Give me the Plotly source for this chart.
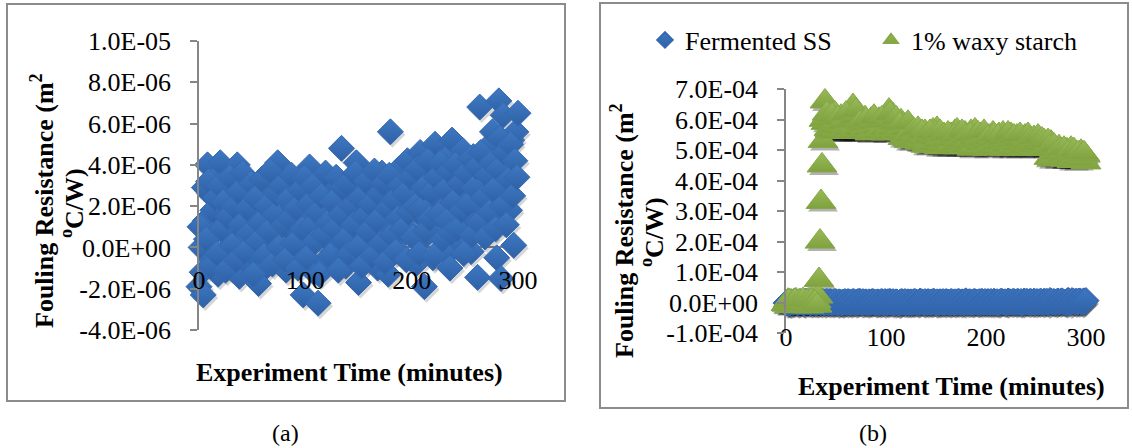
import plotly.graph_objects as go

W, H = 1132, 448

# ---------------- data ----------------
# Fermented SS: readings at even minutes, then readings at odd minutes
time_ss = [0, 2, 4, 6, 8, 10, 12, 14, 16, 18, 20, 22, 24, 26, 28, 30, 32, 34, 36, 38,
           40, 42, 44, 46, 48, 50, 52, 54, 56, 58, 60, 62, 64, 66, 68, 70, 72, 74, 76, 78,
           80, 82, 84, 86, 88, 90, 92, 94, 96, 98, 100, 102, 104, 106, 108, 110, 112, 114, 116, 118,
           120, 122, 124, 126, 128, 130, 132, 134, 136, 138, 140, 142, 144, 146, 148, 150, 152, 154, 156, 158,
           160, 162, 164, 166, 168, 170, 172, 174, 176, 178, 180, 182, 184, 186, 188, 190, 192, 194, 196, 198,
           200, 202, 204, 206, 208, 210, 212, 214, 216, 218, 220, 222, 224, 226, 228, 230, 232, 234, 236, 238,
           240, 242, 244, 246, 248, 250, 252, 254, 256, 258, 260, 262, 264, 266, 268, 270, 272, 274, 276, 278,
           280, 282, 284, 286, 288, 290, 292, 294, 296, 298, 300,
           1, 3, 5, 7, 9, 11, 13, 15, 17, 19, 21, 23, 25, 27, 29, 31, 33, 35, 37, 39,
           41, 43, 45, 47, 49, 51, 53, 55, 57, 59, 61, 63, 65, 67, 69, 71, 73, 75, 77, 79,
           81, 83, 85, 87, 89, 91, 93, 95, 97, 99, 101, 103, 105, 107, 109, 111, 113, 115, 117, 119,
           121, 123, 125, 127, 129, 131, 133, 135, 137, 139, 141, 143, 145, 147, 149, 151, 153, 155, 157, 159,
           161, 163, 165, 167, 169, 171, 173, 175, 177, 179, 181, 183, 185, 187, 189, 191, 193, 195, 197, 199,
           201, 203, 205, 207, 209, 211, 213, 215, 217, 219, 221, 223, 225, 227, 229, 231, 233, 235, 237, 239,
           241, 243, 245, 247, 249, 251, 253, 255, 257, 259, 261, 263, 265, 267, 269, 271, 273, 275, 277, 279,
           281, 283, 285, 287, 289, 291, 293, 295, 297, 299]

fermented_ss = [-1.9e-6, 0.0e-6, -2.3e-6, 1.3e-6, 4.0e-6, 2.6e-6, -0.6e-6, 3.3e-6, 0.8e-6, -1.3e-6,
                4.1e-6, 1.9e-6, -0.2e-6, 2.8e-6, 0.5e-6, -1.0e-6, 3.6e-6, 1.2e-6, 4.0e-6, -1.4e-6,
                2.3e-6, 0.2e-6, 3.1e-6, -0.8e-6, 1.6e-6, 2.9e-6, -0.4e-6, 1.0e-6, -1.75e-6, 2.1e-6,
                0.6e-6, 3.4e-6, -0.9e-6, 1.8e-6, 2.7e-6, 0.3e-6, 3.5e-6, 4.1e-6, -0.5e-6, 1.4e-6,
                2.5e-6, -1.1e-6, 0.9e-6, 3.0e-6, 1.7e-6, -0.3e-6, 2.2e-6, 0.4e-6, 3.2e-6, -2.3e-6,
                1.5e-6, 2.8e-6, 3.9e-6, 0.1e-6, -1.2e-6, 2.4e-6, -2.7e-6, 1.1e-6, 3.3e-6, 0.7e-6,
                -0.7e-6, 2.6e-6, 1.3e-6, -0.2e-6, 3.0e-6, 1.9e-6, 0.5e-6, 4.8e-6, 2.2e-6, -0.9e-6,
                1.4e-6, 3.1e-6, 0.2e-6, 2.0e-6, 4.1e-6, -1.7e-6, 1.2e-6, 2.9e-6, 0.6e-6, -0.6e-6,
                3.4e-6, 1.8e-6, 0.0e-6, 2.5e-6, -1.0e-6, 1.6e-6, 3.6e-6, 0.9e-6, 2.3e-6, -1.3e-6,
                5.6e-6, 1.0e-6, 2.7e-6, 0.3e-6, 3.8e-6, 1.5e-6, -0.4e-6, 2.9e-6, 4.2e-6, 0.8e-6,
                2.1e-6, 3.3e-6, -0.8e-6, 1.7e-6, 4.6e-6, 0.4e-6, -1.9e-6, 2.6e-6, 3.9e-6, 1.2e-6,
                -0.5e-6, 5.0e-6, 2.4e-6, 0.6e-6, 3.6e-6, 1.9e-6, 4.3e-6, -0.3e-6, -1.0e-6, 5.2e-6,
                2.8e-6, 1.1e-6, 3.9e-6, 0.2e-6, 4.7e-6, 2.3e-6, 1.4e-6, 3.4e-6, -0.2e-6, 4.4e-6,
                2.6e-6, -1.45e-6, 6.8e-6, 1.9e-6, 3.8e-6, 0.8e-6, 4.9e-6, 2.9e-6, 5.6e-6, 1.5e-6,
                -0.5e-6, 7.1e-6, -1.5e-6, 6.4e-6, 3.1e-6, 4.5e-6, 1.8e-6, 5.2e-6, 0.1e-6, 5.6e-6,
                6.5e-6,
                1.0e-6, -1.2e-6, 2.9e-6, 0.4e-6, 3.2e-6, -0.9e-6, 1.8e-6, 2.4e-6, -0.3e-6, 3.0e-6,
                0.9e-6, 2.2e-6, -1.1e-6, 1.5e-6, 3.4e-6, 0.1e-6, 2.0e-6, -0.6e-6, 2.7e-6, 1.1e-6,
                3.6e-6, -0.2e-6, 1.9e-6, 0.7e-6, 3.1e-6, -1.3e-6, 2.4e-6, 0.3e-6, 1.2e-6, 3.3e-6,
                -0.4e-6, 2.0e-6, 0.8e-6, 3.7e-6, -0.8e-6, 1.6e-6, 2.6e-6, 0.0e-6, 3.0e-6, 1.1e-6,
                -0.6e-6, 2.3e-6, 1.4e-6, 3.5e-6, 0.2e-6, 1.9e-6, -1.0e-6, 2.8e-6, 0.9e-6, 3.4e-6,
                -0.5e-6, 2.1e-6, 1.0e-6, 3.0e-6, 0.3e-6, 1.7e-6, -1.3e-6, 2.5e-6, 0.6e-6, 3.6e-6,
                1.2e-6, -0.4e-6, 2.2e-6, 0.9e-6, 3.4e-6, -1.1e-6, 1.6e-6, 2.9e-6, 0.4e-6, 3.1e-6,
                -0.3e-6, 2.0e-6, 1.1e-6, 3.6e-6, 0.0e-6, 2.4e-6, -0.9e-6, 1.5e-6, 3.2e-6, 0.8e-6,
                2.1e-6, -0.4e-6, 3.7e-6, 1.3e-6, 2.6e-6, 0.2e-6, 3.1e-6, -0.7e-6, 1.9e-6, 3.5e-6,
                0.6e-6, 2.3e-6, -0.2e-6, 1.4e-6, 3.0e-6, 0.9e-6, 2.6e-6, -0.6e-6, 1.7e-6, 3.4e-6,
                0.5e-6, 2.0e-6, 3.8e-6, -0.3e-6, 1.9e-6, 2.9e-6, 0.8e-6, 4.2e-6, 1.4e-6, 2.7e-6,
                -0.4e-6, 3.4e-6, 1.6e-6, 4.1e-6, 0.4e-6, 2.8e-6, 1.3e-6, 3.7e-6, 0.7e-6, 2.2e-6,
                4.0e-6, 0.9e-6, 3.1e-6, 1.8e-6, -0.3e-6, 3.6e-6, 2.1e-6, 4.3e-6, 0.6e-6, 2.9e-6,
                3.9e-6, 1.2e-6, 4.6e-6, 2.4e-6, 0.5e-6, 3.5e-6, 1.7e-6, 4.1e-6, 2.8e-6, 0.9e-6,
                3.8e-6, 5.3e-6, 2.0e-6, 4.6e-6, 1.1e-6, 3.3e-6, 5.0e-6, 2.5e-6, 4.2e-6, 3.4e-6]

# 1% waxy starch: main readings, then the extra readings in between
time_ws = [0, 2, 4, 6, 8, 10, 12, 14, 16, 18, 20, 22, 24, 26, 28, 30,
           32, 33, 34, 35, 36, 37, 38, 39,
           41, 43, 45, 47, 49, 51, 53, 55, 57, 59, 61, 63, 65, 67, 69, 71, 73, 75, 77, 79,
           81, 83, 85, 87, 89, 91, 93, 95, 97, 99, 101, 103, 105, 107, 109, 111, 113, 115, 117, 119,
           121, 123, 125, 127, 129, 131, 133, 135, 137, 139, 141, 143, 145, 147, 149, 151, 153, 155, 157, 159,
           161, 163, 165, 167, 169, 171, 173, 175, 177, 179, 181, 183, 185, 187, 189, 191, 193, 195, 197, 199,
           201, 203, 205, 207, 209, 211, 213, 215, 217, 219, 221, 223, 225, 227, 229, 231, 233, 235, 237, 239,
           241, 243, 245, 247, 249, 251, 253, 255, 257, 259, 261, 263, 265, 267, 269, 271, 273, 275, 277, 279,
           281, 283, 285, 287, 289, 291, 293, 295, 297, 299, 300,
           1, 3, 5, 7, 9, 11, 13, 15, 17, 19, 21, 23, 25, 27, 29, 31,
           40, 42, 44, 46, 48, 50, 52, 54, 56, 58, 60, 62, 64, 66, 68, 70, 72, 74, 76, 78,
           80, 82, 84, 86, 88, 90, 92, 94, 96, 98, 100, 102, 104, 106, 108, 110, 112, 114, 116, 118,
           120, 122, 124, 126, 128, 130, 132, 134, 136, 138, 140, 142, 144, 146, 148, 150, 152, 154, 156, 158,
           160, 162, 164, 166, 168, 170, 172, 174, 176, 178, 180, 182, 184, 186, 188, 190, 192, 194, 196, 198,
           200, 202, 204, 206, 208, 210, 212, 214, 216, 218, 220, 222, 224, 226, 228, 230, 232, 234, 236, 238,
           240, 242, 244, 246, 248, 250, 252, 254, 256, 258, 260, 262, 264, 266, 268, 270, 272, 274, 276, 278,
           280, 282, 284, 286, 288, 290, 292, 294, 296, 298]

waxy_starch = [-0.05e-4, 0.06e-4, -0.12e-4, 0.02e-4, -0.08e-4, 0.07e-4, -0.10e-4, 0.03e-4,
               -0.06e-4, 0.05e-4, -0.11e-4, 0.04e-4, -0.03e-4, 0.07e-4, -0.09e-4, 0.05e-4,
               0.2e-4, 0.74e-4, 2.0e-4, 3.3e-4, 4.5e-4, 5.3e-4, 6.0e-4, 6.6e-4,
               6.2e-4, 5.7e-4, 6.0e-4, 5.6e-4, 6.2e-4, 5.8e-4, 5.6e-4, 6.1e-4, 5.7e-4, 6.0e-4,
               5.6e-4, 5.9e-4, 6.2e-4, 6.45e-4, 5.8e-4, 5.6e-4, 6.1e-4, 5.7e-4, 5.9e-4, 6.05e-4,
               5.6e-4, 5.8e-4, 6.0e-4, 5.65e-4, 5.9e-4, 5.6e-4, 6.0e-4, 5.75e-4, 5.6e-4, 6.1e-4,
               5.7e-4, 6.3e-4, 5.9e-4, 6.15e-4, 5.6e-4, 6.0e-4, 5.7e-4, 5.95e-4, 5.4e-4, 5.8e-4,
               5.6e-4, 5.3e-4, 5.75e-4, 5.6e-4, 5.35e-4, 5.55e-4, 5.3e-4, 5.5e-4, 5.25e-4, 5.6e-4,
               5.3e-4, 5.15e-4, 5.5e-4, 5.65e-4, 5.2e-4, 5.7e-4, 5.1e-4, 5.45e-4, 5.25e-4, 5.1e-4,
               5.4e-4, 5.15e-4, 5.5e-4, 5.2e-4, 5.6e-4, 5.65e-4, 5.1e-4, 5.4e-4, 5.25e-4, 5.55e-4,
               5.1e-4, 5.35e-4, 5.6e-4, 5.2e-4, 5.65e-4, 5.1e-4, 5.4e-4, 5.5e-4, 5.15e-4, 5.35e-4,
               5.05e-4, 5.45e-4, 5.2e-4, 5.55e-4, 5.1e-4, 5.3e-4, 5.5e-4, 5.15e-4, 5.55e-4, 5.05e-4,
               5.4e-4, 5.2e-4, 5.5e-4, 5.1e-4, 5.3e-4, 5.45e-4, 5.05e-4, 5.35e-4, 5.2e-4, 5.45e-4,
               5.1e-4, 5.4e-4, 5.25e-4, 5.05e-4, 5.35e-4, 5.15e-4, 5.3e-4, 5.05e-4, 5.25e-4, 5.1e-4,
               5.2e-4, 4.75e-4, 5.25e-4, 4.8e-4, 5.0e-4, 4.75e-4, 5.1e-4, 4.8e-4, 4.95e-4, 4.7e-4,
               5.0e-4, 4.75e-4, 5.05e-4, 4.7e-4, 4.85e-4, 4.65e-4, 4.8e-4, 4.95e-4, 4.7e-4, 4.85e-4,
               4.6e-4,
               -0.07e-4, 0.05e-4, -0.10e-4, 0.0e-4, 0.06e-4, -0.12e-4, 0.03e-4, -0.05e-4,
               0.08e-4, -0.08e-4, 0.02e-4, -0.13e-4, 0.06e-4, -0.04e-4, 0.0e-4, -0.10e-4,
               5.9e-4, 6.0e-4, 5.65e-4, 6.15e-4, 5.8e-4, 5.6e-4, 6.05e-4, 5.75e-4, 5.9e-4, 5.6e-4,
               6.2e-4, 5.7e-4, 5.95e-4, 5.6e-4, 6.1e-4, 6.3e-4, 5.7e-4, 5.9e-4, 5.6e-4, 5.85e-4,
               6.0e-4, 5.7e-4, 5.55e-4, 5.9e-4, 6.1e-4, 5.75e-4, 5.6e-4, 5.95e-4, 6.05e-4, 5.7e-4,
               5.55e-4, 5.95e-4, 6.2e-4, 5.7e-4, 5.9e-4, 6.05e-4, 5.6e-4, 5.85e-4, 5.55e-4, 5.7e-4,
               5.45e-4, 5.9e-4, 5.5e-4, 5.3e-4, 5.65e-4, 5.45e-4, 5.7e-4, 5.25e-4, 5.6e-4, 5.4e-4,
               5.15e-4, 5.45e-4, 5.6e-4, 5.2e-4, 5.4e-4, 5.55e-4, 5.3e-4, 5.6e-4, 5.15e-4, 5.5e-4,
               5.3e-4, 5.55e-4, 5.1e-4, 5.35e-4, 5.45e-4, 5.2e-4, 5.5e-4, 5.3e-4, 5.6e-4, 5.15e-4,
               5.45e-4, 5.25e-4, 5.5e-4, 5.05e-4, 5.4e-4, 5.3e-4, 5.55e-4, 5.2e-4, 5.35e-4, 5.6e-4,
               5.25e-4, 5.4e-4, 5.1e-4, 5.35e-4, 5.5e-4, 5.2e-4, 5.45e-4, 5.25e-4, 5.35e-4, 5.4e-4,
               5.15e-4, 5.55e-4, 5.3e-4, 5.05e-4, 5.45e-4, 5.2e-4, 5.35e-4, 5.5e-4, 5.1e-4, 5.3e-4,
               5.25e-4, 5.5e-4, 5.35e-4, 5.15e-4, 5.4e-4, 5.25e-4, 5.45e-4, 5.2e-4, 5.35e-4, 5.3e-4,
               5.05e-4, 5.3e-4, 5.1e-4, 4.7e-4, 5.15e-4, 4.9e-4, 4.7e-4, 5.0e-4, 4.85e-4, 5.05e-4,
               4.7e-4, 4.9e-4, 4.8e-4, 4.65e-4, 5.0e-4, 4.75e-4, 4.9e-4, 4.7e-4, 4.85e-4, 4.9e-4]

x_ticks = [0, 100, 200, 300]
x_ticktext = ["0", "100", "200", "300"]

ya_ticks = [-4e-6, -2e-6, 0, 2e-6, 4e-6, 6e-6, 8e-6, 1e-5]
ya_ticktext = ["-4.0E-06", "-2.0E-06", "0.0E+00", "2.0E-06", "4.0E-06", "6.0E-06", "8.0E-06", "1.0E-05"]

yb_ticks = [-1e-4, 0, 1e-4, 2e-4, 3e-4, 4e-4, 5e-4, 6e-4, 7e-4]
yb_ticktext = ["-1.0E-04", "0.0E+00", "1.0E-04", "2.0E-04", "3.0E-04", "4.0E-04", "5.0E-04", "6.0E-04", "7.0E-04"]

series_names = ["Fermented SS", "1% waxy starch"]
x_title = "Experiment Time (minutes)"
y_title_1 = "Fouling Resistance (m<sup>2</sup>"
y_title_2 = "<sup>o</sup>C/W)"
captions = ["(a)", "(b)"]

# ---------------- style / geometry ----------------
FONT = "Times New Roman, Liberation Serif, serif"
BLUE = "#3E78C2"
BLUE_DARK = "#2E61A6"
BLUE_EDGE = "#3568B0"
GREEN = "#98BA58"
GREEN_DARK = "#7FA23F"
GREEN_EDGE = "#86A947"
AX = "#868686"

XA = [0, 300]
YA = [-4e-6, 1e-5]
YB = [-1e-4, 7e-4]
A_PX = (199, 518, 330, 41)      # left, right, bottom, top (pixels)
B_PX = (786, 1086, 333, 89.3)
SH_DX, SH_DY = 2, 3             # shadow offset in pixels


def px(x):
    return x / W


def py(y):
    return 1 - y / H


def shifted(rng, span_px, shift_px):
    per_px = (rng[1] - rng[0]) / span_px
    return [rng[0] - shift_px * per_px, rng[1] - shift_px * per_px]


fig = go.Figure()

# shadows on the hidden base axes (offset by a few pixels)
fig.add_trace(go.Scatter(x=time_ss, y=fermented_ss, xaxis="x", yaxis="y", mode="markers",
                         showlegend=False, cliponaxis=False, hoverinfo="skip",
                         marker=dict(symbol="diamond", size=20, color="rgba(0,0,0,0.16)", line=dict(width=0))))
fig.add_trace(go.Scatter(x=time_ss, y=fermented_ss, xaxis="x2", yaxis="y2", mode="markers",
                         showlegend=False, cliponaxis=False, hoverinfo="skip",
                         marker=dict(symbol="diamond", size=20, color="rgba(0,0,0,0.25)", line=dict(width=0))))
fig.add_trace(go.Scatter(x=time_ws, y=waxy_starch, xaxis="x2", yaxis="y2", mode="markers",
                         showlegend=False, cliponaxis=False, hoverinfo="skip",
                         marker=dict(symbol="triangle-up", size=26, color="rgba(0,0,0,0.3)", line=dict(width=0))))

# main markers on the visible overlay axes
fig.add_trace(go.Scatter(
    x=time_ss, y=fermented_ss, xaxis="x3", yaxis="y3", mode="markers",
    name=series_names[0], showlegend=False, cliponaxis=False,
    marker=dict(symbol="diamond", size=20, color=BLUE, line=dict(color=BLUE_EDGE, width=1),
                gradient=dict(type="vertical", color=BLUE_DARK))))
fig.add_trace(go.Scatter(
    x=time_ss, y=fermented_ss, xaxis="x4", yaxis="y4", mode="markers",
    name=series_names[0], showlegend=True, cliponaxis=False,
    marker=dict(symbol="diamond", size=20, color=BLUE, line=dict(color=BLUE_EDGE, width=1),
                gradient=dict(type="vertical", color=BLUE_DARK))))
fig.add_trace(go.Scatter(
    x=time_ws, y=waxy_starch, xaxis="x4", yaxis="y4", mode="markers",
    name=series_names[1], showlegend=True, cliponaxis=False,
    marker=dict(symbol="triangle-up", size=26, color=GREEN, line=dict(color=GREEN_EDGE, width=1),
                gradient=dict(type="vertical", color=GREEN_DARK))))

tickfont = dict(family=FONT, size=26, color="black")

xcommon = dict(range=XA, tickvals=x_ticks, ticktext=x_ticktext, showline=False, automargin=False,
               showgrid=False, zeroline=False, ticks="", tickfont=tickfont, anchor="free")
ycommon = dict(showline=True, linecolor=AX, linewidth=1.5, ticks="outside", ticklen=7, automargin=False,
               tickcolor=AX, tickwidth=1.5, showgrid=False, zeroline=True, zerolinecolor=AX,
               zerolinewidth=1.5, tickfont=tickfont, ticklabelstandoff=14)
hidden = dict(visible=False, showgrid=False, zeroline=False, automargin=False)

dom_ax = [px(A_PX[0]), px(A_PX[1])]
dom_ay = [py(A_PX[2]), py(A_PX[3])]
dom_bx = [px(B_PX[0]), px(B_PX[1])]
dom_by = [py(B_PX[2]), py(B_PX[3])]

fig.update_layout(
    width=W, height=H, margin=dict(l=0, r=0, t=0, b=0, autoexpand=False),
    paper_bgcolor="white", plot_bgcolor="rgba(0,0,0,0)",
    font=dict(family=FONT, color="black"),
    # panel (a): hidden shadow axes + visible overlay axes
    xaxis=dict(domain=dom_ax, anchor="y", range=shifted(XA, A_PX[1] - A_PX[0], SH_DX), **hidden),
    yaxis=dict(domain=dom_ay, anchor="x", range=shifted(YA, A_PX[2] - A_PX[3], -SH_DY), **hidden),
    xaxis3=dict(overlaying="x", domain=dom_ax, position=py(262), **xcommon),
    yaxis3=dict(overlaying="y", domain=dom_ay, anchor="x3", range=YA,
                tickvals=ya_ticks, ticktext=ya_ticktext, **ycommon),
    # panel (b)
    xaxis2=dict(domain=dom_bx, anchor="y2", range=shifted(XA, B_PX[1] - B_PX[0], SH_DX), **hidden),
    yaxis2=dict(domain=dom_by, anchor="x2", range=shifted(YB, B_PX[2] - B_PX[3], -SH_DY), **hidden),
    xaxis4=dict(overlaying="x2", domain=dom_bx, position=py(319), **xcommon),
    yaxis4=dict(overlaying="y2", domain=dom_by, anchor="x4", range=YB,
                tickvals=yb_ticks, ticktext=yb_ticktext, **ycommon),
    legend=dict(orientation="h", x=px(645), xanchor="left", y=py(40), yanchor="middle",
                font=dict(family=FONT, size=26, color="black"), itemsizing="constant",
                entrywidth=181, entrywidthmode="pixels", bgcolor="rgba(0,0,0,0)"),
    showlegend=True,
)

shapes = [
    dict(type="rect", xref="paper", yref="paper", x0=px(7), x1=px(565), y0=py(401), y1=py(4),
         line=dict(color="#8C8C8C", width=2)),
    dict(type="rect", xref="paper", yref="paper", x0=px(600), x1=px(1128), y0=py(408), y1=py(3),
         line=dict(color="#8C8C8C", width=2)),
]
fig.update_layout(shapes=shapes)

bold = dict(family=FONT, size=26, color="black")


def note(text, x, y, font, angle=0):
    return dict(text=text, x=px(x), y=py(y), xref="paper", yref="paper", showarrow=False,
                font=font, textangle=angle, xanchor="center", yanchor="middle")


ann = [
    note("<b>" + x_title + "</b>", 349, 372, bold),
    note("<b>" + y_title_1 + "</b>", 42, 201, bold, -90),
    note("<b>" + y_title_2 + "</b>", 72, 203, bold, -90),
    note("<b>" + x_title + "</b>", 951, 386, bold),
    note("<b>" + y_title_1 + "</b>", 622, 231, bold, -90),
    note("<b>" + y_title_2 + "</b>", 652, 232, bold, -90),
    note(captions[0], 285, 433, dict(family=FONT, size=24, color="black")),
    note(captions[1], 873, 433, dict(family=FONT, size=24, color="black")),
]
fig.update_layout(annotations=ann)

fig.write_html("out.html")
